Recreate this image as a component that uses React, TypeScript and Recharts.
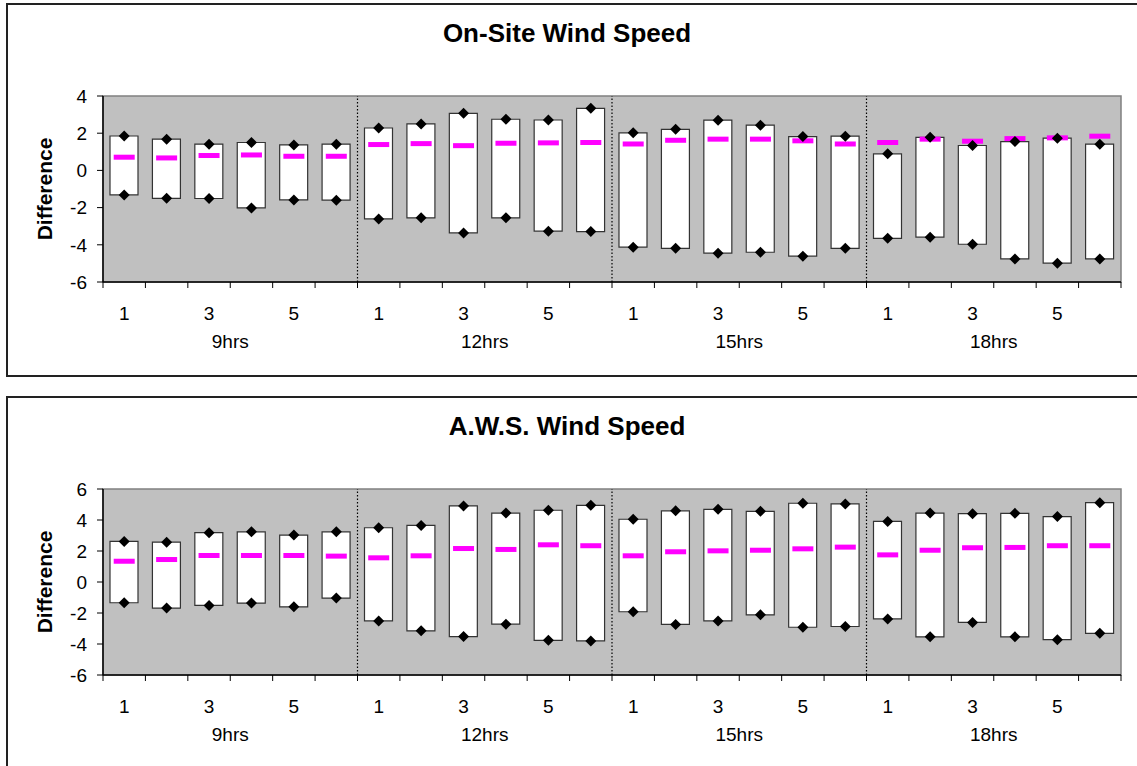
import React from 'react';
import { ComposedChart, Bar, Line, XAxis, YAxis, ReferenceArea, ReferenceLine } from 'recharts';

// categories: 4 forecast hours x 6 runs
const groups = ['9hrs', '12hrs', '15hrs', '18hrs'];
const runs = ['1', '2', '3', '4', '5', '6'];
const shownRuns = ['1', '3', '5'];

// On-Site Wind Speed
const onSiteHigh = [1.85, 1.68, 1.41, 1.5, 1.37, 1.41, 2.28, 2.5, 3.07, 2.75, 2.71, 3.34, 2.02, 2.21, 2.7, 2.43, 1.82, 1.84, 0.89, 1.78, 1.34, 1.55, 1.73, 1.41];
const onSiteLow = [-1.32, -1.5, -1.51, -2.02, -1.59, -1.6, -2.61, -2.55, -3.36, -2.55, -3.27, -3.29, -4.13, -4.19, -4.45, -4.4, -4.61, -4.19, -3.65, -3.59, -3.97, -4.76, -4.99, -4.76];
const onSiteMean = [0.71, 0.67, 0.8, 0.83, 0.76, 0.76, 1.39, 1.44, 1.33, 1.46, 1.48, 1.5, 1.42, 1.62, 1.68, 1.68, 1.59, 1.42, 1.5, 1.68, 1.57, 1.71, 1.75, 1.84];
const onSiteTicks = [-6, -4, -2, 0, 2, 4];

// A.W.S. Wind Speed
const awsHigh = [2.62, 2.57, 3.18, 3.24, 3.03, 3.24, 3.5, 3.65, 4.91, 4.45, 4.63, 4.95, 4.05, 4.59, 4.69, 4.56, 5.08, 5.04, 3.91, 4.45, 4.41, 4.43, 4.22, 5.12];
const awsLow = [-1.34, -1.68, -1.51, -1.36, -1.6, -1.04, -2.51, -3.15, -3.52, -2.72, -3.76, -3.8, -1.92, -2.74, -2.51, -2.12, -2.92, -2.87, -2.38, -3.54, -2.61, -3.54, -3.72, -3.31];
const awsMean = [1.34, 1.45, 1.71, 1.71, 1.71, 1.67, 1.56, 1.69, 2.16, 2.1, 2.4, 2.34, 1.69, 1.95, 2.01, 2.05, 2.14, 2.25, 1.75, 2.05, 2.21, 2.23, 2.34, 2.34];
const awsTicks = [-6, -4, -2, 0, 2, 4, 6];

const FONT = '"Liberation Sans", Arial, sans-serif';
const N = groups.length * runs.length;

// boundaries get tick marks, centres of odd runs get run labels
const boundaryTicks = Array.from({ length: N + 1 }, (_, i) => i);
const labelTicks = groups.flatMap((_, g) =>
    runs.map((r, i) => (shownRuns.includes(r) ? g * runs.length + i + 0.5 : null)).filter((v) => v !== null)
) as number[];
const gridTicks = [...boundaryTicks, ...labelTicks].sort((a, b) => a - b);

const runAt = (v: number) => runs[Math.floor(v) % runs.length];
const groupCentre = (v: number) => v % runs.length === runs.length / 2;
const groupAt = (v: number) => groups[Math.floor(v / runs.length)];

const GridTick = (props: any) => {
    const { x, y, payload } = props;
    const v = payload.value as number;
    if (Number.isInteger(v)) {
        return (
            <g>
                <line x1={x} x2={x} y1={y} y2={y + 6} stroke="#000" strokeWidth={1} />
                {groupCentre(v) && (
                    <text x={x} y={y + 59} dy="0.35em" textAnchor="middle" fontSize={19} fontFamily={FONT} fill="#000">
                        {groupAt(v)}
                    </text>
                )}
            </g>
        );
    }
    return (
        <text x={x} y={y + 31} dy="0.35em" textAnchor="middle" fontSize={19} fontFamily={FONT} fill="#000">
            {runAt(v)}
        </text>
    );
};

const Diamond = (props: any) => {
    const { cx, cy, key } = props;
    if (cx == null || cy == null) return <g key={key} />;
    const s = 5.5;
    return <path key={key} d={`M${cx},${cy - s}L${cx + s},${cy}L${cx},${cy + s}L${cx - s},${cy}Z`} fill="#000" />;
};

const Dash = (props: any) => {
    const { cx, cy, key } = props;
    if (cx == null || cy == null) return <g key={key} />;
    return <rect key={key} x={cx - 10.5} y={cy - 2.5} width={21} height={5} fill="#FF00FF" />;
};

interface PanelProps {
    title: string;
    high: number[];
    low: number[];
    mean: number[];
    yTicks: number[];
    top: number;
}

const Panel: React.FC<PanelProps> = ({ title, high, low, mean, yTicks, top }) => {
    const data = groups.flatMap((g, gi) =>
        runs.map((r, ri) => {
            const i = gi * runs.length + ri;
            return { x: i + 0.5, name: `${g}-${r}`, range: [low[i], high[i]], high: high[i], low: low[i], mean: mean[i] };
        })
    );
    const yMin = yTicks[0];
    const yMax = yTicks[yTicks.length - 1];

    return (
        <div
            style={{
                position: 'absolute',
                left: 6,
                top,
                width: 1140,
                height: 374,
                border: '2px solid #222',
                boxSizing: 'border-box',
                background: '#fff',
            }}
        >
            <div
                style={{
                    position: 'absolute',
                    left: 0,
                    top: 15,
                    width: 1118,
                    textAlign: 'center',
                    fontFamily: FONT,
                    fontWeight: 'bold',
                    fontSize: 26,
                    lineHeight: '26px',
                    color: '#000',
                }}
            >
                {title}
            </div>
            <ComposedChart width={1128} height={368} data={data} margin={{ top: 91, right: 15, left: 0, bottom: 0 }}>
                <XAxis
                    dataKey="x"
                    type="number"
                    domain={[0, N]}
                    ticks={gridTicks}
                    allowDataOverflow
                    height={91}
                    tickLine={false}
                    tickSize={0}
                    tickMargin={0}
                    interval={0}
                    axisLine={{ stroke: '#000', strokeWidth: 1.5 }}
                    tick={<GridTick />}
                />
                <YAxis
                    domain={[yMin, yMax]}
                    ticks={yTicks}
                    allowDataOverflow
                    width={95}
                    tickSize={6}
                    tickMargin={10}
                    interval={0}
                    axisLine={{ stroke: '#000', strokeWidth: 1.5 }}
                    tickLine={{ stroke: '#000' }}
                    tick={{ fontSize: 19, fontFamily: FONT, fill: '#000' }}
                    label={({ viewBox }: any) => {
                        const cx = viewBox.x + 37;
                        const cy = viewBox.y + viewBox.height / 2;
                        return (
                            <text
                                x={cx}
                                y={cy}
                                transform={`rotate(-90, ${cx}, ${cy})`}
                                textAnchor="middle"
                                dy="0.35em"
                                fontSize={21}
                                fontWeight="bold"
                                fontFamily={FONT}
                                fill="#000"
                            >
                                Difference
                            </text>
                        );
                    }}
                />
                <ReferenceArea x1={0} x2={N} y1={yMin} y2={yMax} fill="#C0C0C0" fillOpacity={1} stroke="#808080" strokeWidth={1.5} ifOverflow="visible" />
                {groups.slice(1).map((g, gi) => (
                    <ReferenceLine key={g} x={(gi + 1) * runs.length} stroke="#000" strokeDasharray="1.5 2" strokeWidth={1.2} />
                ))}
                <Bar dataKey="range" barSize={28} fill="#fff" stroke="#333" strokeWidth={1.2} isAnimationActive={false} />
                <Line dataKey="mean" stroke="none" dot={Dash} activeDot={false} isAnimationActive={false} />
                <Line dataKey="high" stroke="none" dot={Diamond} activeDot={false} isAnimationActive={false} />
                <Line dataKey="low" stroke="none" dot={Diamond} activeDot={false} isAnimationActive={false} />
            </ComposedChart>
        </div>
    );
};

export default function App() {
    return (
        <div style={{ position: 'absolute', left: 0, top: 0, width: 1137, height: 766, overflow: 'hidden', background: '#fff' }}>
            <Panel title="On-Site Wind Speed" high={onSiteHigh} low={onSiteLow} mean={onSiteMean} yTicks={onSiteTicks} top={3} />
            <Panel title="A.W.S. Wind Speed" high={awsHigh} low={awsLow} mean={awsMean} yTicks={awsTicks} top={396} />
        </div>
    );
}
